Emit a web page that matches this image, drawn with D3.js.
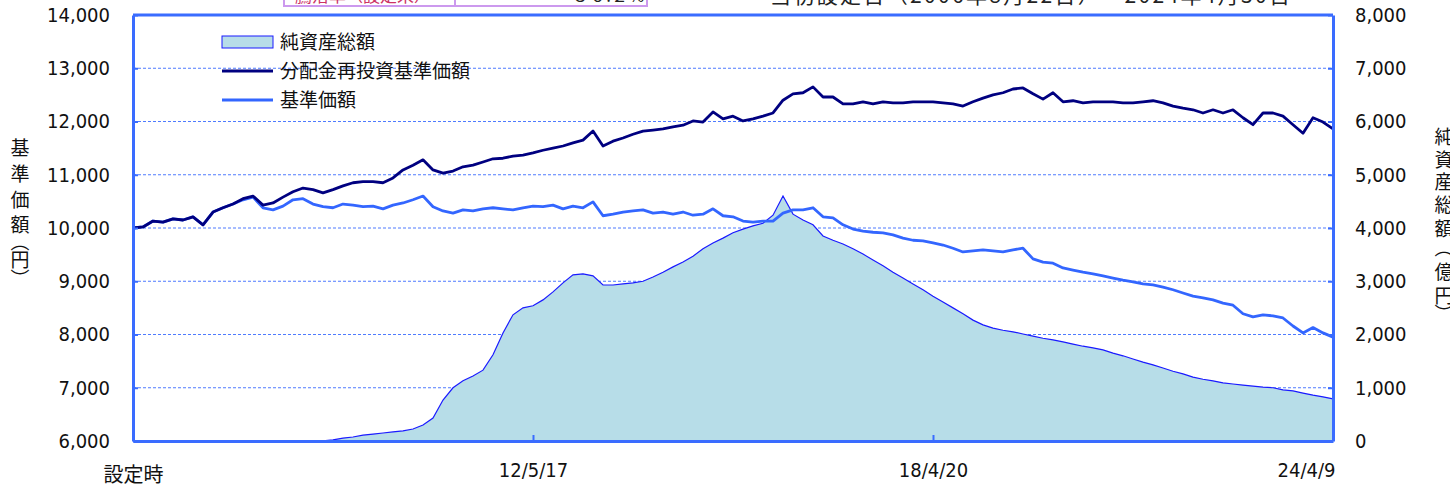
<!DOCTYPE html>
<html lang="ja">
<head>
<meta charset="UTF-8">
<title>基準価額・純資産総額の推移</title>
<script src="https://cdn.jsdelivr.net/npm/d3@7/dist/d3.min.js"></script>
<style>
  body { margin: 0; background: #fff; }
  svg text { font-family: "DejaVu Sans Condensed", "DejaVu Sans", sans-serif; }
  .jp { font-family: "Noto Sans CJK JP", "Noto Sans", sans-serif; }
</style>
</head>
<body>
<svg width="1450" height="486" id="main"></svg>
<script>
// 基準価額 (円) — 10px steps across the plot
const navValues = [
  10000,10020,10130,10110,10170,10150,10210,10060,10300,10380,
  10450,10530,10580,10380,10340,10410,10530,10550,10450,10400,
  10380,10450,10430,10400,10410,10360,10430,10470,10530,10600,
  10400,10320,10280,10340,10320,10360,10380,10360,10340,10380,
  10410,10400,10430,10360,10410,10380,10490,10230,10260,10300,
  10320,10340,10280,10300,10260,10300,10240,10260,10360,10230,
  10210,10130,10110,10130,10130,10280,10340,10340,10380,10210,
  10190,10060,9980,9940,9920,9910,9870,9810,9770,9760,
  9720,9680,9620,9550,9570,9590,9570,9550,9590,9620,
  9420,9360,9340,9250,9210,9170,9140,9100,9060,9020,
  8990,8950,8930,8890,8840,8780,8720,8690,8650,8590,
  8550,8390,8330,8370,8350,8310,8160,8030,8130,8030,
  7950
];
// 分配金再投資基準価額 (円)
const reinvValues = [
  10000,10020,10130,10110,10170,10150,10210,10060,10300,10380,
  10450,10550,10600,10430,10470,10580,10680,10750,10720,10660,
  10720,10790,10850,10870,10870,10850,10940,11090,11180,11280,
  11090,11030,11070,11150,11180,11240,11300,11310,11350,11370,
  11410,11460,11500,11540,11600,11650,11820,11540,11630,11690,
  11760,11820,11840,11860,11900,11930,12010,11990,12180,12050,
  12100,12010,12050,12100,12160,12400,12520,12540,12650,12460,
  12460,12330,12330,12370,12330,12370,12350,12350,12370,12370,
  12370,12350,12330,12290,12370,12440,12500,12540,12610,12630,
  12520,12420,12540,12370,12390,12350,12370,12370,12370,12350,
  12350,12370,12390,12350,12290,12250,12220,12160,12220,12160,
  12220,12070,11940,12160,12160,12100,11940,11780,12070,11990,
  11860
];
// 純資産総額 (億円)
const assetValues = [
  0,0,0,0,0,0,0,0,0,0,
  0,0,0,0,0,0,0,0,0,5,
  20,55,75,110,130,150,170,190,225,300,
  430,770,1000,1130,1220,1330,1620,2030,2370,2500,
  2540,2650,2800,2970,3120,3140,3100,2930,2930,2950,
  2970,3000,3080,3170,3270,3360,3470,3610,3720,3810,
  3910,3980,4040,4090,4240,4600,4260,4150,4060,3850,
  3770,3700,3610,3510,3400,3290,3170,3060,2950,2840,
  2720,2610,2500,2390,2270,2180,2120,2080,2050,2010,
  1970,1930,1900,1860,1820,1780,1750,1710,1650,1600,
  1540,1480,1430,1370,1310,1260,1200,1160,1130,1090,
  1070,1050,1030,1010,1000,960,940,900,860,830,
  790
];
const xTickIndex = [0, 40, 80, 120];
const xTickLabels = ["設定時", "12/5/17", "18/4/20", "24/4/9"];
const leftTicks = [6000, 7000, 8000, 9000, 10000, 11000, 12000, 13000, 14000];
const rightTicks = [0, 1000, 2000, 3000, 4000, 5000, 6000, 7000, 8000];
const legendLabels = ["純資産総額", "分配金再投資基準価額", "基準価額"];

const svg = d3.select("#main");
const margin = {top: 15, right: 117, bottom: 45, left: 133};
const width = 1450, height = 486;
const axisBlue = "#3a6cff";

const x = d3.scaleLinear().domain([0, navValues.length - 1]).range([margin.left, width - margin.right]);
const yL = d3.scaleLinear().domain([6000, 14000]).range([height - margin.bottom, margin.top]);
const yR = d3.scaleLinear().domain([0, 8000]).range([height - margin.bottom, margin.top]);

// clipped header remnants at the very top
const head = svg.append("g");
head.append("rect").attr("x", 284).attr("y", -20).attr("width", 171).attr("height", 26)
  .attr("fill", "none").attr("stroke", "#cc99ee").attr("stroke-width", 2);
head.append("rect").attr("x", 455).attr("y", -20).attr("width", 192).attr("height", 26)
  .attr("fill", "none").attr("stroke", "#cc99ee").attr("stroke-width", 2);
head.append("text").attr("class", "jp").attr("x", 295).attr("y", 2).attr("font-size", 17)
  .attr("fill", "#cc3366").text("騰落率（設定来）");
head.append("text").attr("class", "jp").attr("x", 645).attr("y", 2).attr("font-size", 17)
  .attr("text-anchor", "end").attr("fill", "#222").text("ー５０.２％");
head.append("text").attr("class", "jp").attr("x", 770).attr("y", 3).attr("font-size", 21)
  .attr("textLength", 520).attr("lengthAdjust", "spacing")
  .attr("fill", "#222").text("当初設定日（2006年8月22日）～2024年4月30日");

// gridlines
svg.append("g")
  .selectAll("line")
  .data(leftTicks.slice(1, -1))
  .join("line")
  .attr("x1", margin.left).attr("x2", width - margin.right)
  .attr("y1", d => yL(d)).attr("y2", d => yL(d))
  .attr("stroke", "#4f7bff").attr("stroke-width", 1).attr("stroke-dasharray", "3,2");

// net assets area
const area = d3.area()
  .x((d, i) => x(i))
  .y0(yR(0))
  .y1(d => yR(d));
svg.append("path").datum(assetValues)
  .attr("d", area).attr("fill", "#b7dde8");
svg.append("path").datum(assetValues)
  .attr("d", d3.line().x((d, i) => x(i)).y(d => yR(d)))
  .attr("fill", "none").attr("stroke", "#1a1aff").attr("stroke-width", 1.2);

// lines
const lineL = d3.line().x((d, i) => x(i)).y(d => yL(d));
svg.append("path").datum(navValues)
  .attr("d", lineL).attr("fill", "none").attr("stroke", "#3366ff").attr("stroke-width", 2.8)
  .attr("stroke-linejoin", "round");
svg.append("path").datum(reinvValues)
  .attr("d", lineL).attr("fill", "none").attr("stroke", "#000080").attr("stroke-width", 2.8)
  .attr("stroke-linejoin", "round");

// axes
const leftAxis = svg.append("g")
  .attr("transform", `translate(${margin.left},0)`)
  .call(d3.axisLeft(yL).tickValues(leftTicks).tickFormat(d3.format(",")).tickSizeInner(-5).tickSizeOuter(0).tickPadding(23));
const rightAxis = svg.append("g")
  .attr("transform", `translate(${width - margin.right},0)`)
  .call(d3.axisRight(yR).tickValues(rightTicks).tickFormat(d3.format(",")).tickSizeInner(-5).tickSizeOuter(0).tickPadding(22));
const bottomAxis = svg.append("g")
  .attr("transform", `translate(0,${height - margin.bottom})`)
  .call(d3.axisBottom(x).tickValues(xTickIndex).tickFormat((d, i) => xTickLabels[i]).tickSizeInner(-6).tickSizeOuter(0).tickPadding(22));

[leftAxis, rightAxis, bottomAxis].forEach(g => {
  g.selectAll(".tick line").attr("stroke", axisBlue).attr("stroke-width", 2);
  g.select(".domain").attr("stroke", axisBlue).attr("stroke-width", 3);
  g.selectAll(".tick text").attr("font-size", 20).attr("fill", "#111");
});
rightAxis.selectAll(".tick text").attr("text-anchor", "start");
bottomAxis.selectAll(".tick text")
  .attr("class", (d, i) => i === 0 ? "jp" : null)
  .attr("dy", (d, i) => i === 0 ? "0.95em" : "0.71em")
  .attr("text-anchor", (d, i) => i === xTickIndex.length - 1 ? "end" : "middle")
  .attr("dx", (d, i) => i === xTickIndex.length - 1 ? 2 : 0);
// top border
svg.append("line")
  .attr("x1", margin.left).attr("x2", width - margin.right)
  .attr("y1", margin.top).attr("y2", margin.top)
  .attr("stroke", axisBlue).attr("stroke-width", 3);

// legend
const legend = svg.append("g").attr("transform", "translate(222,42)");
const legendRows = legend.selectAll("g").data(legendLabels).join("g")
  .attr("transform", (d, i) => `translate(0,${i * 29})`);
legendRows.filter((d, i) => i === 0).append("rect")
  .attr("x", 0).attr("y", -6).attr("width", 51).attr("height", 12)
  .attr("fill", "#b7dde8").attr("stroke", "#1a1aff").attr("stroke-width", 1);
legendRows.filter((d, i) => i > 0).append("line")
  .attr("x1", 0).attr("x2", 51).attr("y1", 0).attr("y2", 0)
  .attr("stroke", (d, i) => i === 0 ? "#000080" : "#3366ff").attr("stroke-width", 2.8);
legendRows.append("text").attr("class", "jp")
  .attr("x", 58).attr("y", 0).attr("dy", "0.36em").attr("font-size", 19).attr("fill", "#111")
  .text(d => d);

// axis titles (vertical)
const leftTitle = ["基", "準", "価", "額", "︵", "円", "︶"];
const leftTitleY = [148, 174, 200, 225, 242, 260, 279];
svg.append("g").selectAll("text").data(leftTitle).join("text")
  .attr("class", "jp").attr("x", 20).attr("y", (d, i) => leftTitleY[i])
  .attr("dy", "0.36em").attr("text-anchor", "middle").attr("font-size", 19).attr("fill", "#111").text(d => d);
const rightTitle = ["純", "資", "産", "総", "額", "︵", "億", "円", "︶"];
const rightTitleY = [137, 160, 182, 205, 229, 248, 272, 296, 314];
svg.append("g").selectAll("text").data(rightTitle).join("text")
  .attr("class", "jp").attr("x", 1444).attr("y", (d, i) => rightTitleY[i])
  .attr("dy", "0.36em").attr("text-anchor", "middle").attr("font-size", 19).attr("fill", "#111").text(d => d);
</script>
</body>
</html>
